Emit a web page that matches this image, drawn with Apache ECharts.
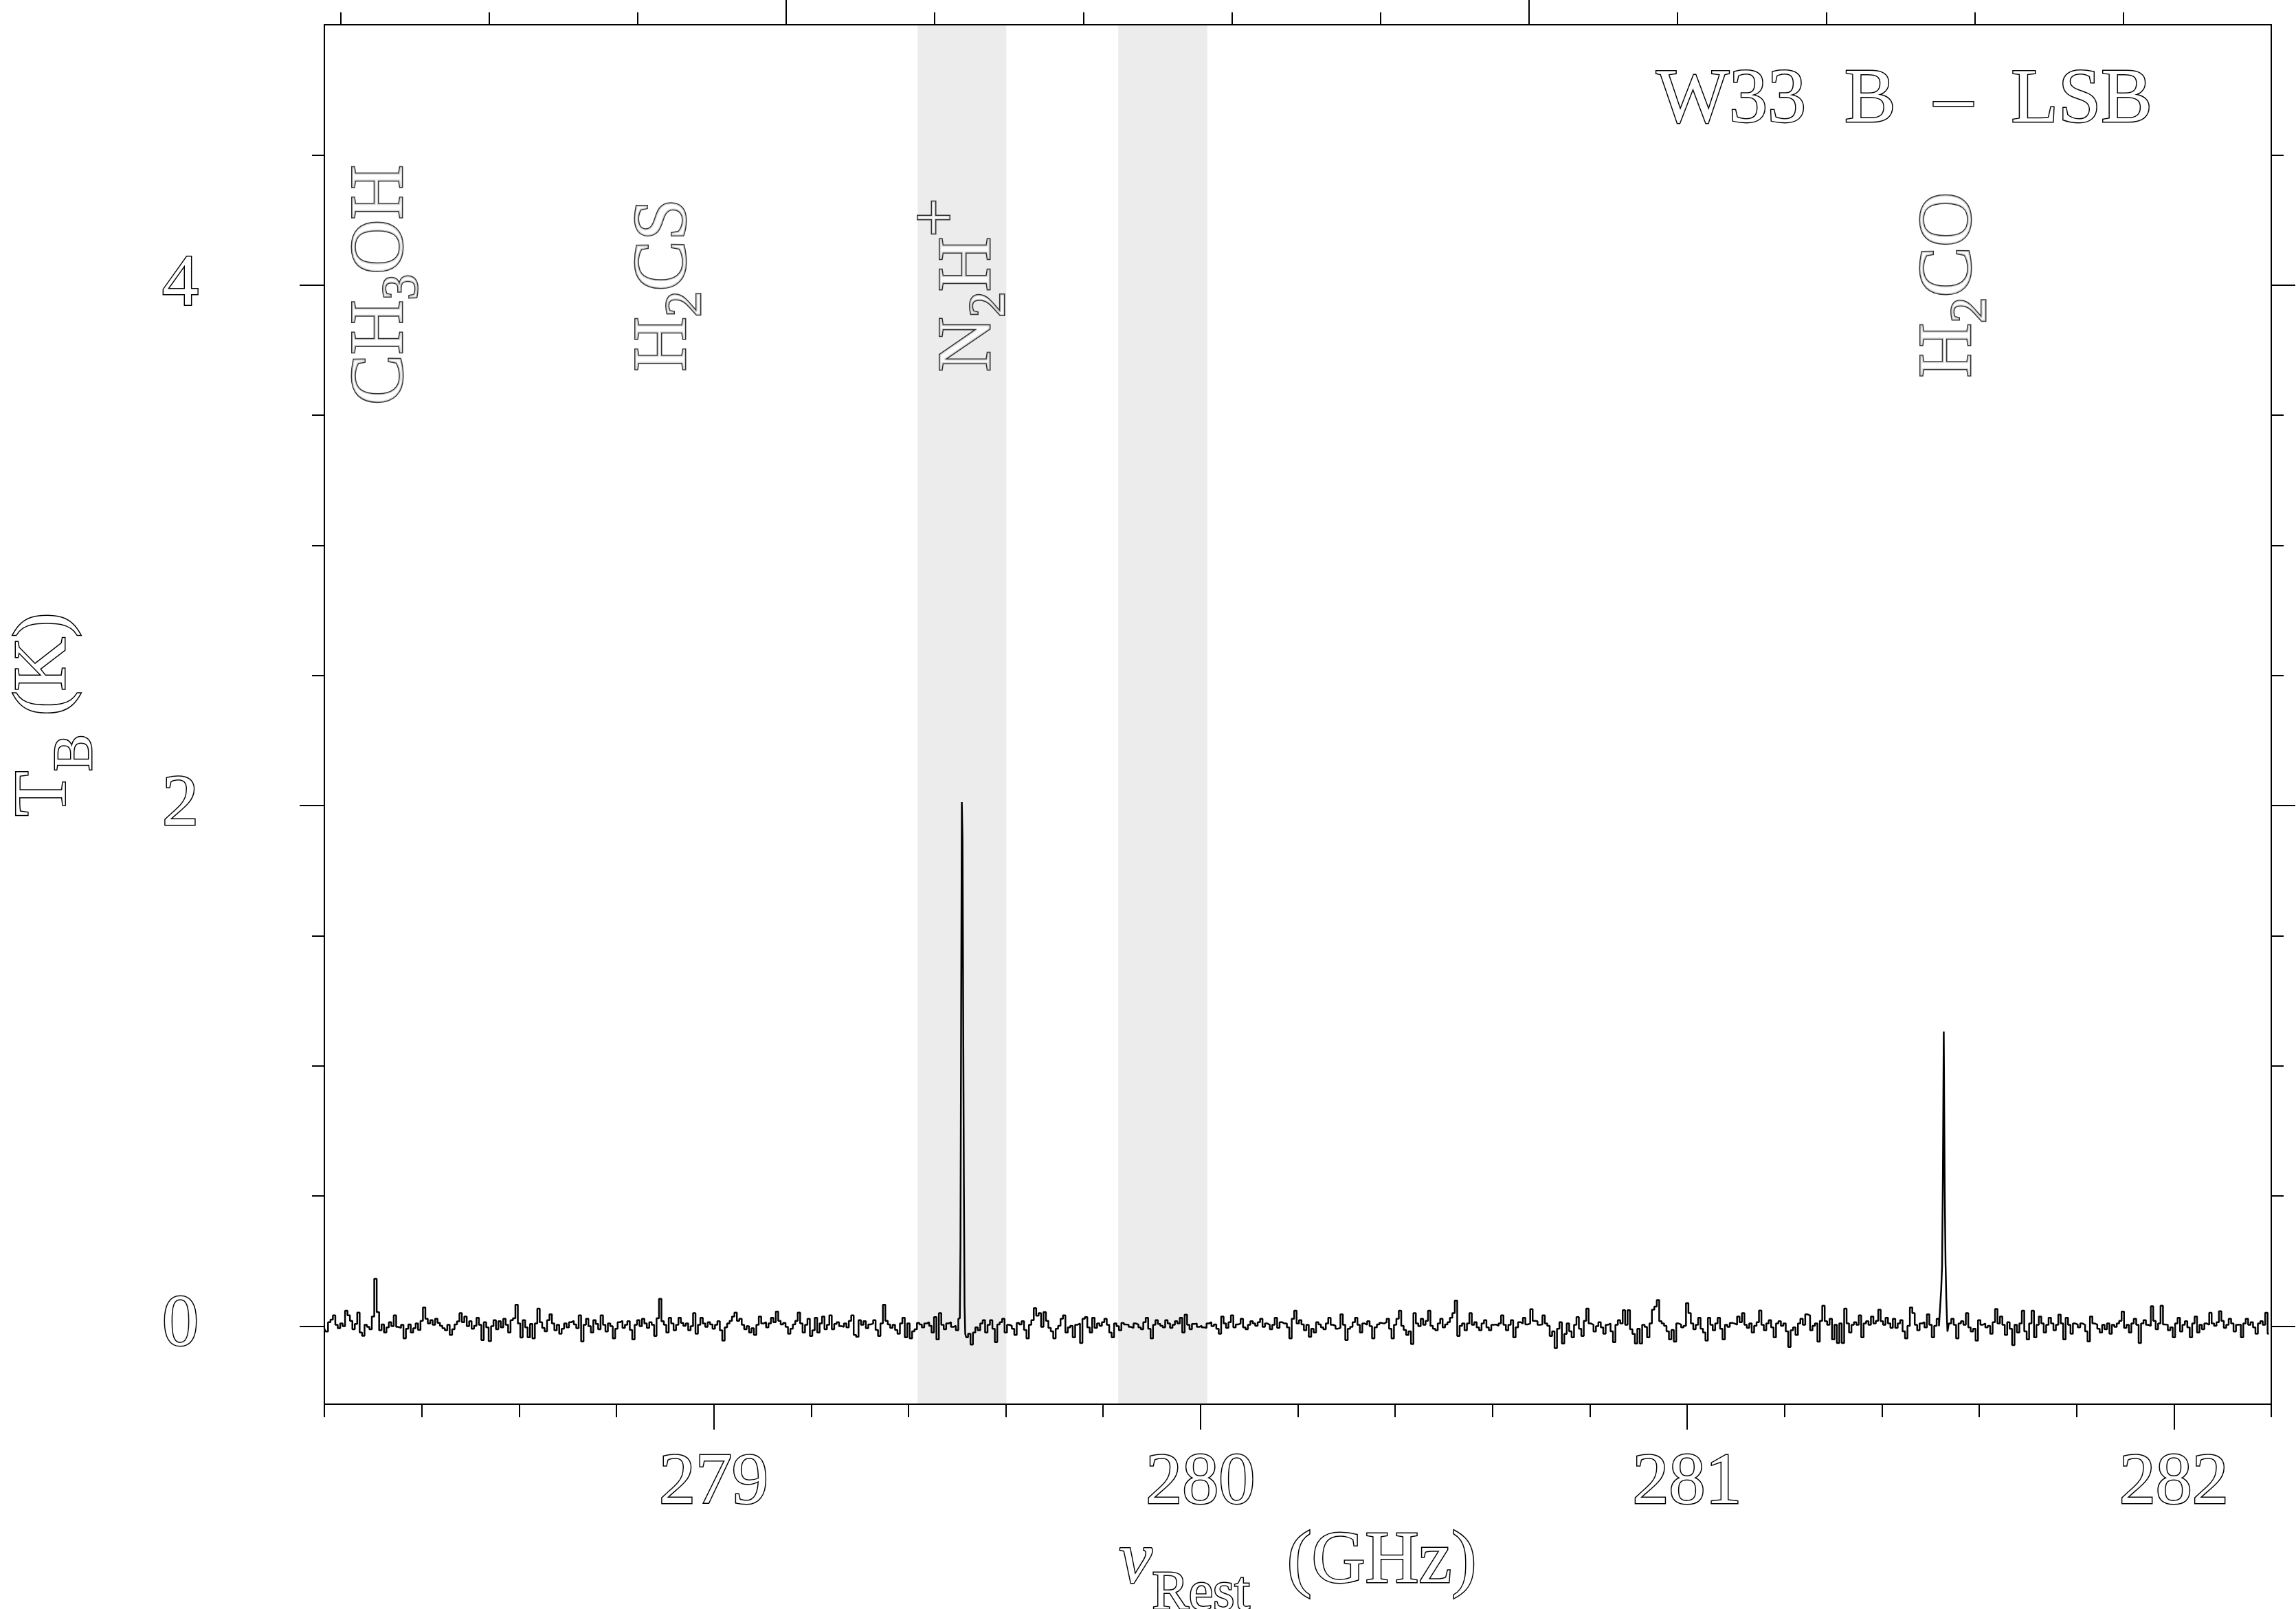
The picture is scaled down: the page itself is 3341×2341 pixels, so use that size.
<!DOCTYPE html>
<html>
<head>
<meta charset="utf-8">
<title>W33 B – LSB</title>
<script src="https://cdn.jsdelivr.net/npm/echarts@6/dist/echarts.min.js"></script>
<style>
html,body{margin:0;padding:0;background:#ffffff;}
#main{width:3341px;height:2341px;}
</style>
</head>
<body>
<div id="main"></div>
<script>
// ===================== DATA =====================
// Baseline spectrum: one sample every CHAN_WIDTH GHz starting at FREQ_START.
// Values are brightness temperature in mK.
// null = channel replaced by the finer sampling of a strong line below.
const FREQ_START = 278.2;   // GHz
const CHAN_WIDTH = 0.005;   // GHz

// 278.200 – 279.195 GHz
const T_seg1 = [
 -10,-21,15,25,41,5,-8,10,0,59,
 41,20,-12,8,52,-25,-37,5,-3,-12,
 37,182,54,-16,6,-25,-5,15,0,41,
 -3,-7,5,-47,-10,6,-25,-8,10,-15,
 20,72,28,10,23,5,28,12,1,-8,
 -16,5,-34,-12,6,18,50,15,37,0,
 19,-10,1,32,5,-54,15,-5,-58,0,
 23,-12,19,-5,28,5,-25,23,30,82,
 10,-44,23,-5,-43,8,-47,10,67,15,
 -7,-20,23,45,10,-16,5,-29,-10,10,
 -5,15,20,6,-8,41,-59,5,28,0,
 -25,23,8,-12,41,5,-21,10,0,-47,
 -10,15,20,-7,5,19,-15,-51,5,23,
 0,28,10,-7,15,5,-38,30,105,19,
 5,-25,32,10,-16,5,32,12,1,10,
 -16,0,50,-29,5,32,10,-3,15,6,
 -10,5,19,-16,-56,-5,10,20,37,52,
 20,28,5,-12,0,-25,-8,-34,5,37,
 10,15,-5,10,32,15,56,20,6,12,
 -3,-29,-10,6,20,52,10,-25,5,28
];
// 279.200 – 280.195 GHz
const T_seg2 = [
 -38,-16,32,-25,10,37,-12,5,41,-12,
 8,15,0,-3,10,-5,20,41,-34,-41,
 23,5,19,-8,6,10,23,-15,-38,10,
 82,20,6,-7,5,-15,-29,10,32,-43,
 10,-47,-20,-12,12,6,-5,10,15,1,
 -25,35,-51,50,5,-12,10,15,-3,1,
 -16,28,null,null,-43,-29,-71,-25,-5,-16,
 10,23,-25,5,23,-10,-62,6,15,28,
 -25,5,1,-10,-34,12,6,19,-15,-47,
 5,23,69,40,50,-3,54,20,-7,-20,
 -47,-10,1,28,41,-25,-5,1,-43,5,
 10,-65,28,35,-5,-25,32,-7,10,1,
 15,28,5,-25,-43,10,0,-16,12,6,
 5,-3,-7,10,6,-5,-12,15,32,-10,
 -47,5,23,8,1,-5,23,10,-7,5,
 19,10,32,-25,44,5,-12,8,10,-3,
 1,-5,-7,10,15,0,6,-10,-29,37,
 10,-7,15,41,-5,6,10,28,-5,-12,
 5,19,10,1,15,28,-3,10,5,-12,
 5,32,-7,15,10,10,-5,-47,28,59
];
// 280.200 – 281.195 GHz
const T_seg3 = [
 10,23,6,-16,5,-41,-10,-25,15,6,
 -5,-12,10,32,5,1,-10,-7,45,5,
 -54,-10,-3,15,32,5,-25,10,5,19,
 0,-47,-5,6,12,10,15,28,-10,-47,
 5,28,59,1,-15,-34,-20,-69,50,10,
 0,28,5,20,59,1,-10,-16,10,28,
 -5,6,15,32,50,98,-38,1,10,-16,
 10,50,5,15,-5,-16,10,23,-5,-16,
 5,6,1,10,41,5,-16,5,23,-43,
 -5,15,10,32,6,10,65,20,19,5,
 6,41,10,1,-38,-20,-85,-10,15,-67,
 -30,10,-20,-43,5,35,-10,-38,20,67,
 10,5,-21,0,15,-5,-29,5,10,-20,
 -62,5,23,10,61,5,61,-12,-30,-67,
 -10,-67,5,-3,-43,10,63,75,100,19,
 10,1,-20,-51,-15,-60,10,6,-5,1,
 88,50,10,-12,5,32,-10,-25,-56,32,
 5,-16,10,32,-10,-51,5,-3,12,10,
 5,37,15,50,5,-7,10,-25,1,15,
 60,5,-16,10,23,-5,-43,10,19,1
];
// 281.200 – 282.195 GHz
const T_seg4 = [
 10,-20,-80,-16,-5,-34,10,28,5,45,
 41,-16,1,10,-60,20,78,19,5,28,
 -51,5,-65,10,-65,67,10,-25,5,15,
 5,41,-43,10,19,5,37,10,20,63,
 19,5,32,10,-7,28,-7,10,23,-20,
 -47,1,72,50,5,-16,10,15,-5,45,
 5,-43,1,28,null,null,null,-21,10,28,
 5,-47,10,19,5,50,-5,-21,-10,-56,
 23,5,10,-5,1,-29,15,66,10,37,
 5,-34,15,-10,-73,5,-25,10,59,-20,
 -51,10,59,-43,5,37,10,-25,5,32,
 10,-16,5,44,10,-51,32,5,-29,10,
 6,-5,10,5,-20,-59,37,10,6,-10,
 -25,5,-12,10,-29,5,-3,10,20,56,
 -7,5,-25,10,28,5,-65,10,23,5,
 1,76,20,-12,10,78,6,5,-16,-5,
 -43,10,32,-21,5,19,-5,-43,10,37,
 -25,5,-12,10,5,51,10,1,15,57,
 20,-7,5,28,10,-21,5,6,-43,10,
 28,5,15,-5,-29,10,19,5,51,-29
];

// Strong lines, sampled at their native channel spacing (GHz, K)
const N2H_FREQ = [279.5062, 279.5076, 279.5090, 279.5104, 279.5118, 279.5132, 279.5146, 279.5160, 279.5174];
const N2H_T    = [0.03, 0.305, 1.21, 2.013, 1.873, 1.22, 0.553, 0.078, -0.03];
const H2CO_FREQ = [281.5196, 281.5210, 281.5228, 281.5245, 281.5262, 281.5280, 281.5300, 281.5316, 281.5331, 281.5346];
const H2CO_T    = [0.0, 0.092, 0.142, 0.228, 0.576, 1.132, 0.542, 0.244, 0.107, 0.02];

// Line identifications (rest frequency GHz, label height K)
const MOL_NAMES  = ['CH3OH', 'H2CS', 'N2H+', 'H2CO'];
const MOL_LABELS = ['{m|CH}{s|3}{m|OH}', '{m|H}{s|2}{m|CS}', '{m|N}{s|2}{m|H}{p|+}', '{m|H}{s|2}{m|CO}'];
const MOL_FREQ   = [278.305, 278.887, 279.512, 281.527];
const MOL_Y      = [4.0, 4.0, 4.0, 4.0];

// Shaded frequency bands (GHz)
const BAND_LO = [279.419, 279.831];
const BAND_HI = [279.601, 280.014];

// Axes
const X_MIN = 278.2, X_MAX = 282.2;
const X_MAJOR = [279, 280, 281, 282];
const X_MINOR = [278.2, 278.4, 278.6, 278.8, 279.2, 279.4, 279.6, 279.8, 280.2, 280.4, 280.6, 280.8, 281.2, 281.4, 281.6, 281.8, 282.2];
const Y_MIN = -0.3, Y_MAX = 5.0;
const Y_MAJOR = [0, 2, 4];
const Y_MINOR = [0.5, 1, 1.5, 2.5, 3, 3.5, 4.5];
const TOP_MIN = 1.892, TOP_MAX = 14.995;
const TOP_MAJOR = [5, 10];
const TOP_MINOR = [2, 3, 4, 6, 7, 8, 9, 11, 12, 13, 14];

const TITLE = 'W33  B  –  LSB';
const X_NAME = '{i|ν}{s|Rest}{m|  (GHz)}';
const Y_NAME = '{m|T}{s|B}{m| (K)}';

// ===================== BUILD =====================
const spectrum = [];
[].concat(T_seg1, T_seg2, T_seg3, T_seg4).forEach(function (v, i) {
  if (v !== null) spectrum.push([FREQ_START + i * CHAN_WIDTH, v / 1000]);
});
N2H_FREQ.forEach(function (f, k) { spectrum.push([f, N2H_T[k]]); });
H2CO_FREQ.forEach(function (f, k) { spectrum.push([f, H2CO_T[k]]); });
spectrum.sort(function (a, b) { return a[0] - b[0]; });

const molData = MOL_FREQ.map(function (f, k) { return { value: [f, MOL_Y[k]], name: MOL_NAMES[k] }; });
const bands = BAND_LO.map(function (lo, k) { return [{ xAxis: lo }, { xAxis: BAND_HI[k] }]; });

const FONT = 'Liberation Serif';
const hollow = { color: '#ffffff', textBorderColor: '#000000', textBorderWidth: 3, fontFamily: FONT, fontWeight: 'normal' };
function st(extra) { return Object.assign({}, hollow, extra); }

const nameRich = {
  m: st({ fontSize: 108, lineHeight: 120, verticalAlign: 'top' }),
  i: st({ fontSize: 108, lineHeight: 120, verticalAlign: 'top', fontStyle: 'italic' }),
  s: st({ fontSize: 80, lineHeight: 80, padding: [60, 0, 0, 0], verticalAlign: 'top' })
};
const molRich = {
  m: st({ fontSize: 110, lineHeight: 120, padding: [40, 0, 0, 0], verticalAlign: 'top' }),
  s: st({ fontSize: 75, lineHeight: 80, padding: [88, 0, 0, 0], verticalAlign: 'top' }),
  p: st({ fontSize: 100, lineHeight: 100, padding: [0, 0, 0, 0], verticalAlign: 'top' })
};

const AX = { color: '#000000', width: 2 };
function axisBase(extra) {
  return Object.assign({
    type: 'value',
    gridIndex: 0,
    splitLine: { show: false },
    axisLine: { show: false, onZero: false, lineStyle: AX },
    axisLabel: { show: false },
    z: 5
  }, extra);
}

const tickLabel = st({ fontSize: 106, lineHeight: 106 });

const option = {
  animation: false,
  backgroundColor: '#ffffff',
  title: {
    text: TITLE,
    right: 206,
    top: 92,
    padding: 0,
    textStyle: st({ fontSize: 112, lineHeight: 112 })
  },
  grid: { left: 472, right: 36, top: 36, bottom: 298, containLabel: false, outerBoundsMode: 'none' },
  xAxis: [
    axisBase({
      position: 'bottom', min: X_MIN, max: X_MAX,
      axisLine: { show: true, onZero: false, lineStyle: AX },
      axisTick: { show: true, length: 37, lineStyle: AX, customValues: X_MAJOR },
      axisLabel: Object.assign({ show: true, margin: 63, customValues: X_MAJOR,
        formatter: function (v) { return String(Math.round(v)); } }, tickLabel),
      name: X_NAME, nameLocation: 'middle', nameGap: 172,
      nameTextStyle: { rich: nameRich }
    }),
    axisBase({
      position: 'bottom', min: X_MIN, max: X_MAX,
      axisTick: { show: true, length: 19, lineStyle: AX, customValues: X_MINOR }
    }),
    axisBase({
      position: 'top', min: TOP_MIN, max: TOP_MAX,
      axisLine: { show: true, onZero: false, lineStyle: AX },
      axisTick: { show: true, length: 36, lineStyle: AX, customValues: TOP_MAJOR }
    }),
    axisBase({
      position: 'top', min: TOP_MIN, max: TOP_MAX,
      axisTick: { show: true, length: 18, lineStyle: AX, customValues: TOP_MINOR }
    })
  ],
  yAxis: [
    axisBase({
      position: 'left', min: Y_MIN, max: Y_MAX,
      axisLine: { show: true, onZero: false, lineStyle: AX },
      axisTick: { show: true, length: 36, lineStyle: AX, customValues: Y_MAJOR },
      axisLabel: Object.assign({ show: true, margin: 183, customValues: Y_MAJOR,
        formatter: function (v) { return String(Math.round(v)); } }, tickLabel),
      name: Y_NAME, nameLocation: 'middle', nameGap: 340, nameRotate: 90,
      nameTextStyle: { rich: nameRich }
    }),
    axisBase({
      position: 'left', min: Y_MIN, max: Y_MAX,
      axisTick: { show: true, length: 18, lineStyle: AX, customValues: Y_MINOR }
    }),
    axisBase({
      position: 'right', min: Y_MIN, max: Y_MAX,
      axisLine: { show: true, onZero: false, lineStyle: AX },
      axisTick: { show: true, length: 35, lineStyle: AX, customValues: Y_MAJOR }
    }),
    axisBase({
      position: 'right', min: Y_MIN, max: Y_MAX,
      axisTick: { show: true, length: 18, lineStyle: AX, customValues: Y_MINOR }
    })
  ],
  series: [
    {
      type: 'line',
      name: 'spectrum',
      xAxisIndex: 0, yAxisIndex: 0,
      data: spectrum,
      step: 'middle',
      showSymbol: false,
      symbol: 'none',
      sampling: null,
      lineStyle: { color: '#000000', width: 2.5 },
      z: 3,
      markArea: {
        silent: true,
        itemStyle: { color: '#ececec' },
        data: bands
      }
    },
    {
      type: 'scatter',
      name: 'lines',
      xAxisIndex: 0, yAxisIndex: 0,
      data: molData,
      symbolSize: 0,
      silent: true,
      z: 4,
      label: {
        show: true,
        position: 'inside',
        rotate: 90,
        align: 'center',
        verticalAlign: 'middle',
        offset: [0, -25],
        formatter: function (p) { return MOL_LABELS[p.dataIndex]; },
        rich: molRich
      }
    }
  ]
};

const chart = echarts.init(document.getElementById('main'), null, { renderer: 'canvas', width: 3341, height: 2341 });
chart.setOption(option);
</script>
</body>
</html>
